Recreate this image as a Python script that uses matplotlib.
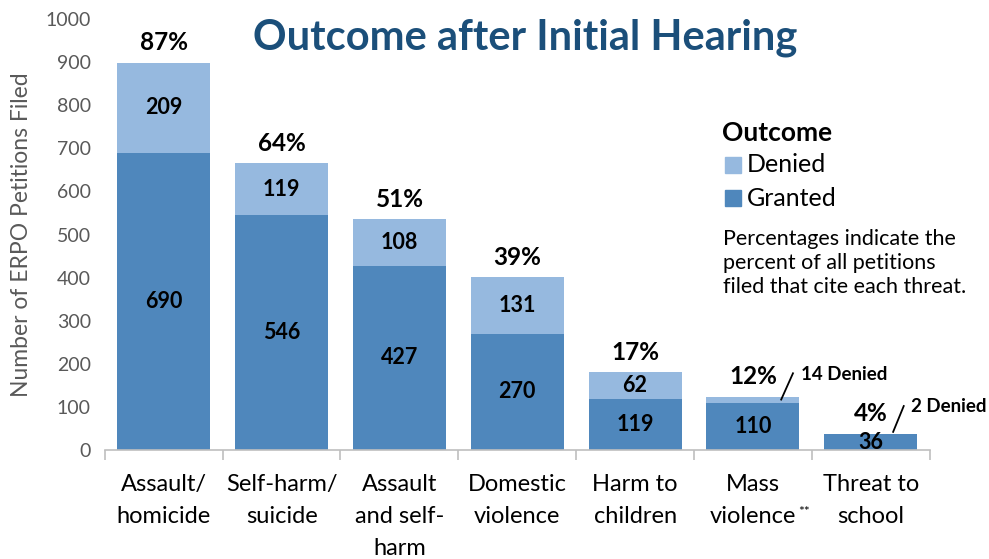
import matplotlib.pyplot as plt
from matplotlib.patches import Rectangle

categories = ['Assault/\nhomicide', 'Self-harm/\nsuicide', 'Assault\nand self-\nharm',
              'Domestic\nviolence', 'Harm to\nchildren', 'Mass\nviolence', 'Threat to\nschool']
granted = [690, 546, 427, 270, 119, 110, 36]
denied = [209, 119, 108, 131, 62, 14, 2]
percents = ['87%', '64%', '51%', '39%', '17%', '12%', '4%']

c_granted = '#4F87BC'
c_denied = '#96B9DF'
plt.rcParams['font.family'] = ['Lato', 'DejaVu Sans']

fig = plt.figure(figsize=(9.89, 5.59), dpi=100)
ax = fig.add_axes([0.106, 0.195, 0.834, 0.771])

x = range(len(categories))
ax.bar(x, granted, width=0.79, color=c_granted)
ax.bar(x, denied, width=0.79, bottom=granted, color=c_denied)

for i in x:
    total = granted[i] + denied[i]
    ax.annotate(percents[i], (i, total), xytext=(0, 6), textcoords='offset points',
                ha='center', va='bottom', fontsize=17.5, fontweight='bold')
    ax.text(i, granted[i] / 2, str(granted[i]), ha='center', va='center',
            fontsize=15.5, fontweight='bold')
    if denied[i] > 30:
        ax.text(i, granted[i] + denied[i] / 2, str(denied[i]), ha='center', va='center',
                fontsize=15.5, fontweight='bold')

# call-outs for small denied segments
ax.plot([5.24, 5.34], [117, 178], color='black', lw=1.3)
ax.text(5.41, 175, '14 Denied', ha='left', va='center', fontsize=13.5, fontweight='bold')
ax.plot([6.19, 6.28], [42, 102], color='black', lw=1.3)
ax.text(6.34, 100, '2 Denied', ha='left', va='center', fontsize=13.5, fontweight='bold')

ax.set_xlim(-0.5, 6.5)
ax.set_ylim(0, 1000)
ax.set_yticks(range(0, 1001, 100))
ax.set_xticks(list(x))
ax.set_xticklabels(categories, fontsize=17, linespacing=1.65, va='top')
ax.set_xticks([i - 0.5 for i in range(8)], minor=True)
ax.tick_params(axis='x', which='major', length=0, pad=17)
ax.tick_params(axis='x', which='minor', length=7, color='#BFBFBF', width=1.2)
ax.tick_params(axis='y', length=0, labelsize=14, labelcolor='#595959', pad=10)
for s in ['top', 'right', 'left']:
    ax.spines[s].set_visible(False)
ax.spines['bottom'].set_color('#BFBFBF')
ax.spines['bottom'].set_linewidth(1.2)
ax.set_ylabel('Number of ERPO Petitions Filed', fontsize=16.5, color='#595959', labelpad=10)

fig.text(0.531, 0.932, 'Outcome after Initial Hearing', ha='center', va='center',
         fontsize=30, fontweight='bold', color='#1B4F7A')
ax.annotate('**', xy=(0, 0), xytext=(798, 47), textcoords='figure pixels',
            fontsize=10, ha='left', va='center')

# legend
fig.text(722 / 989, 1 - 133 / 559, 'Outcome', fontsize=19, fontweight='bold', va='center')
for y, lab, col in [(165, 'Denied', c_denied), (198, 'Granted', c_granted)]:
    fig.patches.append(Rectangle((725 / 989, 1 - (y + 8) / 559), 16 / 989, 16 / 559,
                                 transform=fig.transFigure, color=col))
    fig.text(747 / 989, 1 - y / 559, lab, fontsize=18, va='center')
fig.text(723 / 989, 1 - 263 / 559,
         'Percentages indicate the\npercent of all petitions\nfiled that cite each threat.',
         fontsize=15.5, va='center', linespacing=1.25)

fig.savefig('out.png', dpi=100)
